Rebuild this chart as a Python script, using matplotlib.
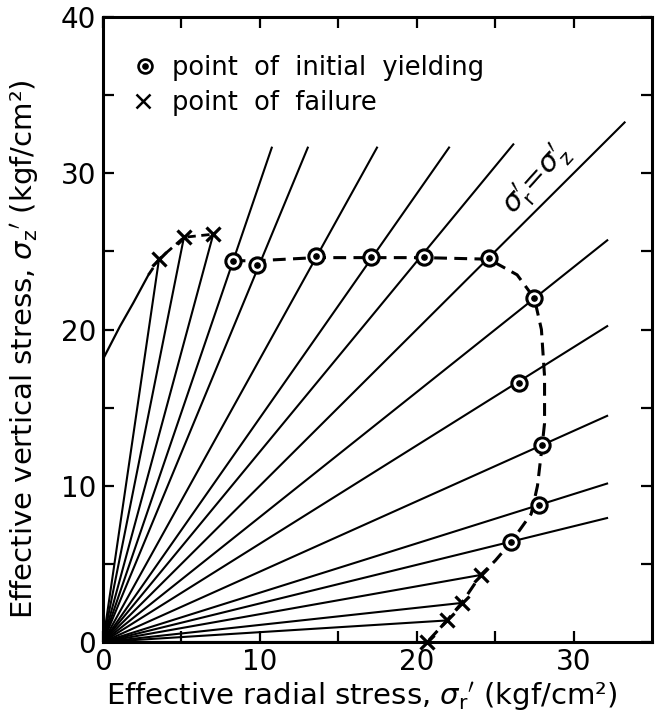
import matplotlib
matplotlib.use("Agg")
import matplotlib.pyplot as plt
import numpy as np

plt.rcParams['font.family'] = ['DejaVu Sans']
plt.rcParams['mathtext.fontset'] = 'dejavusans'

# ---- data ----
# stress paths that end with initial yielding (circle) and continue beyond
yield_r = [8.26, 9.79, 13.55, 17.11, 20.45, 24.6, 27.5, 26.55, 28.0, 27.8, 26.0]
yield_z = [24.4, 24.1, 24.7, 24.65, 24.65, 24.6, 22.0, 16.6, 12.6, 8.76, 6.37]
path_end_r = [10.78, 13.08, 17.5, 22.1, 26.2, 33.3, 32.2, 32.2, 32.2, 32.2, 32.2]
path_end_z = [31.7, 31.7, 31.7, 31.7, 31.9, 33.3, 25.75, 20.25, 14.5, 10.16, 7.95]

# stress paths that end at failure (x)
fail_r = [3.57, 5.16, 7.03, 24.08, 22.87, 21.93, 20.67]
fail_z = [24.5, 25.9, 26.1, 4.29, 2.5, 1.38, 0.0]

# dashed yield locus
locus_r = [8.26, 9.8, 13.55, 17.1, 20.45, 24.6, 26.4, 27.5, 27.95, 28.15, 28.15, 28.0,
           27.7, 27.3, 26.0, 25.0, 24.08, 22.87, 21.93, 20.67]
locus_z = [24.4, 24.4, 24.6, 24.6, 24.6, 24.5, 23.5, 22.0, 20.0, 17.0, 14.0, 12.6,
           10.0, 8.2, 6.37, 5.2, 4.29, 2.5, 1.38, 0.0]

# solid failure curve near the vertical axis, then dashed through upper failure points
fcurve_r = [0.0, 1.08, 1.93, 2.9]
fcurve_z = [18.1, 20.2, 21.7, 23.5]
fdash_r = [3.57, 5.16, 7.03]
fdash_z = [24.5, 25.9, 26.1]

x_ticks = [0, 10, 20, 30]
y_ticks = [0, 10, 20, 30, 40]

# ---- figure ----
W, H = 656, 721
fig = plt.figure(figsize=(W / 100, H / 100), dpi=100)
ax = fig.add_axes([103 / W, 1 - 642 / H, 549 / W, 625 / H])
ax.set_xlim(0, 35)
ax.set_ylim(0, 40)

lw_path = 1.5
for r, z in zip(path_end_r, path_end_z):
    ax.plot([0, r], [0, z], color='black', lw=lw_path, solid_capstyle='butt')
for r, z in zip(fail_r, fail_z):
    ax.plot([0, r], [0, z], color='black', lw=lw_path, solid_capstyle='butt')

# yield locus
ax.plot(locus_r, locus_z, color='black', lw=2.2, linestyle=(0, (4.2, 2.4)))
# failure curve
ax.plot(fcurve_r, fcurve_z, color='black', lw=1.6)
ax.plot([fcurve_r[-1]] + fdash_r, [fcurve_z[-1]] + fdash_z, color='black', lw=2.0,
        linestyle=(0, (3.0, 2.0)))

# markers
ax.plot(yield_r, yield_z, linestyle='none', marker='o', markersize=11,
        markerfacecolor='white', markeredgecolor='black', markeredgewidth=2.2, zorder=5)
ax.plot(yield_r, yield_z, linestyle='none', marker='o', markersize=3.8,
        markerfacecolor='black', markeredgecolor='black', zorder=6)
ax.plot(fail_r, fail_z, linestyle='none', marker='x', markersize=10,
        markeredgewidth=2.3, color='black', zorder=5, clip_on=False)

# legend (manual)
ax.plot([0.0765], [0.922], transform=ax.transAxes, marker='o', markersize=10,
        markerfacecolor='white', markeredgecolor='black', markeredgewidth=1.9)
ax.plot([0.0765], [0.922], transform=ax.transAxes, marker='o', markersize=3.8,
        color='black')
ax.plot([0.073], [0.866], transform=ax.transAxes, marker='x', markersize=9.5,
        markeredgewidth=1.8, color='black')
ax.text(0.125, 0.907, 'point  of  initial  yielding', transform=ax.transAxes,
        fontsize=18.5, va='baseline', ha='left')
ax.text(0.125, 0.851, 'point  of  failure', transform=ax.transAxes,
        fontsize=18.5, va='baseline', ha='left')

# label on the 45 degree line
ax.text(27.7, 29.6, r"$\sigma_\mathrm{r}'\!=\!\sigma_\mathrm{z}'$", fontsize=21,
        rotation=48, ha='center', va='center', rotation_mode='anchor')

# axes styling
for s in ax.spines.values():
    s.set_linewidth(2.2)
ax.set_xticks(x_ticks)
ax.set_yticks(y_ticks)
ax.set_xticks([5, 15, 25], minor=True)
ax.set_yticks([5, 15, 25, 35], minor=True)
ax.tick_params(which='both', direction='in', length=8, width=1.6,
               top=True, right=True, labelsize=20, pad=5)
ax.tick_params(axis='x', pad=4)

fig.text(0.551, 0.034, r"Effective radial stress, $\sigma_\mathrm{r}{}'$ (kgf/cm²)",
         fontsize=21, ha='center', va='center')
fig.text(0.038, 0.516, r"Effective vertical stress, $\sigma_\mathrm{z}{}'$ (kgf/cm²)",
         fontsize=21, ha='center', va='center', rotation=90)

fig.savefig('out.png', dpi=100)
